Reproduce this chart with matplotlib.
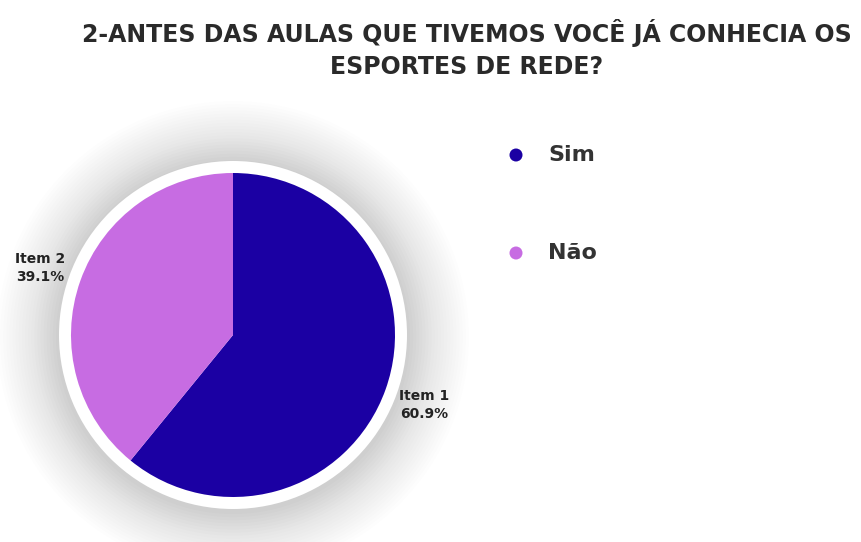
import matplotlib
matplotlib.use("Agg")
import matplotlib.pyplot as plt
from matplotlib.patches import Circle

title = "2-ANTES DAS AULAS QUE TIVEMOS VOCÊ JÁ CONHECIA OS\nESPORTES DE REDE?"
categories = ["Sim", "Não"]
slice_names = ["Item 1", "Item 2"]
values = [60.9, 39.1]
colors = ["#1b00a3", "#c76ce2"]

W, H = 861, 542
fig = plt.figure(figsize=(W / 100, H / 100), dpi=100)
ax = fig.add_axes([0, 0, 1, 1])

cx, cy, r = 233, H - 335, 162
ring = 12

wedges, _ = ax.pie(values, colors=colors, startangle=90, counterclock=False,
                   center=(cx, cy), radius=r, wedgeprops=dict(linewidth=0))
for w in wedges:
    w.set_zorder(3)

ax.set_xlim(0, W)
ax.set_ylim(0, H)
ax.set_aspect("equal")
ax.axis("off")

# soft shadow (few layers so each alpha survives 8-bit quantisation)
n = 20
for i in range(n):
    rr = r + ring + 62 - i * 3.1
    a = 0.008 if i < 12 else 0.012
    ax.add_patch(Circle((cx, cy - 2), rr, color="#000000", alpha=a, lw=0, zorder=1))
ax.add_patch(Circle((cx, cy), r + ring, color="white", lw=0, zorder=2))

lab_pos = [(424, H - 405), (40, H - 268)]
for (x, y), name, v in zip(lab_pos, slice_names, values):
    ax.text(x, y, f"{name}\n{v:.1f}%", ha="center", va="center", fontsize=10,
            fontfamily="DejaVu Sans", fontweight="semibold", color="#222222",
            linespacing=1.3, zorder=5)

fig.text(467 / W, 1 - 49 / H, title, ha="center", va="center", fontsize=17,
         fontfamily="DejaVu Sans", fontweight="bold", color="#2a2a2a", linespacing=1.45)

leg_y = [H - 155, H - 253]
for y, c, cat in zip(leg_y, colors, categories):
    ax.add_patch(Circle((516, y), 6.5, color=c, lw=0, zorder=5))
    ax.text(548, y, cat, ha="left", va="center", fontsize=16, fontfamily="DejaVu Sans",
            fontweight="bold", color="#333333", zorder=5)

fig.savefig("out.png", dpi=100, facecolor="white")
